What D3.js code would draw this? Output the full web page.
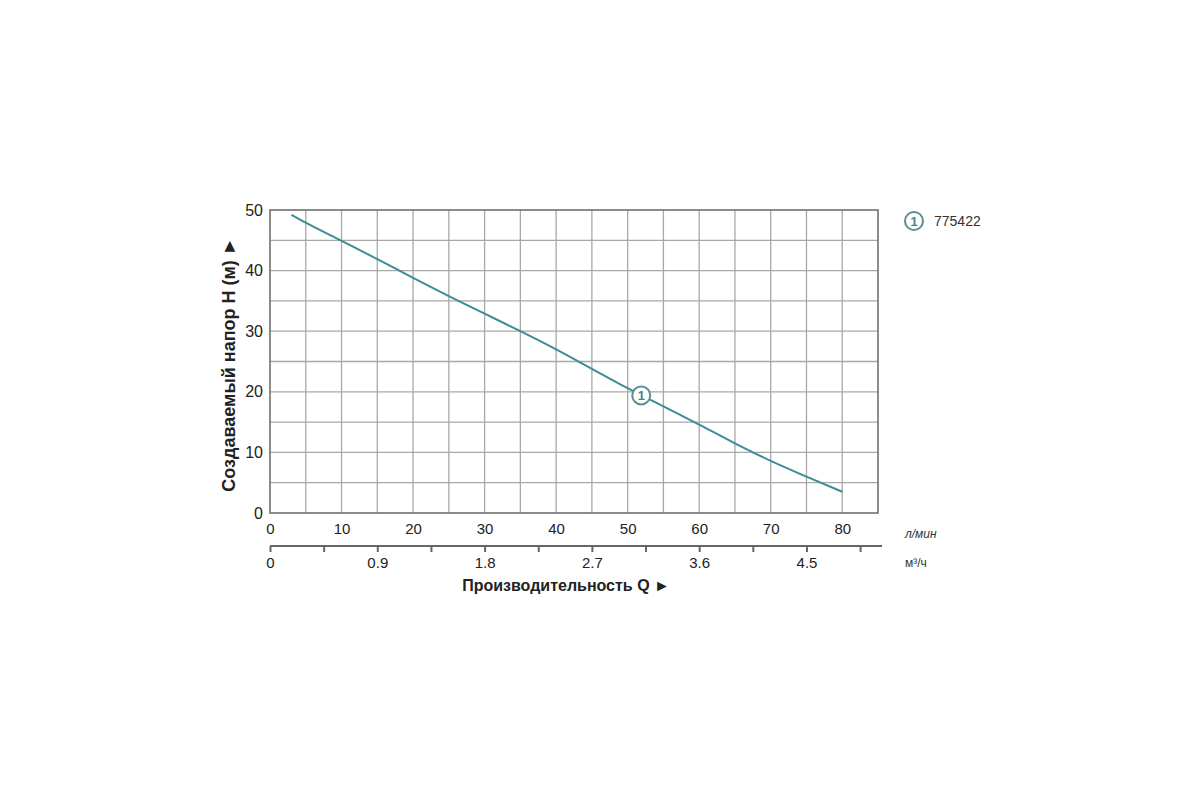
<!DOCTYPE html>
<html>
<head>
<meta charset="utf-8">
<script src="https://cdn.jsdelivr.net/npm/d3@7"></script>
<style>
  body { margin: 0; background: #fff; }
  text { font-family: "Liberation Sans", Arial, sans-serif; }
</style>
</head>
<body>
<svg id="chart"></svg>
<script>
// pump curve 775422: flow (l/min) vs head (m)
const flowLmin = [3, 5, 10, 15, 20, 25, 30, 35, 40, 45, 50, 55, 60, 65, 70, 75, 80];
const headM = [49.2, 47.9, 44.9, 41.9, 38.8, 35.8, 32.9, 30.0, 27.0, 23.8, 20.6, 17.6, 14.6, 11.5, 8.6, 6.0, 3.5];
const xTicks = [0, 10, 20, 30, 40, 50, 60, 70, 80];
const yTicks = [0, 10, 20, 30, 40, 50];
const m3hTicks = [0, 0.45, 0.9, 1.35, 1.8, 2.25, 2.7, 3.15, 3.6, 4.05, 4.5, 4.95];
const m3hLabels = [0, 0.9, 1.8, 2.7, 3.6, 4.5];
const markerPoint = { q: 51.9, h: 19.4, label: "1" };
const seriesName = "775422";

const width = 1200;
const height = 800;
const margin = { top: 210, right: 322, bottom: 287, left: 270 };
const lineColor = "#3c8d97";

const svg = d3.select("#chart").attr("width", width).attr("height", height);

const x = d3.scaleLinear().domain([0, 85]).range([margin.left, width - margin.right]);
const y = d3.scaleLinear().domain([0, 50]).range([height - margin.bottom, margin.top]);
// 1 m3/h = 16.667 l/min
const xm = d3.scaleLinear().domain([0, 85 * 0.06]).range([margin.left, width - margin.right]);

// grid every 5 units
const grid = svg.append("g").attr("class", "grid");
grid.selectAll("line.v")
  .data(d3.range(5, 85, 5))
  .join("line")
  .attr("class", "v")
  .attr("x1", (d) => x(d)).attr("x2", (d) => x(d))
  .attr("y1", y(0)).attr("y2", y(50))
  .attr("stroke", "#a8a8a8").attr("stroke-width", 1.3);
grid.selectAll("line.h")
  .data(d3.range(5, 50, 5))
  .join("line")
  .attr("class", "h")
  .attr("x1", x(0)).attr("x2", x(85))
  .attr("y1", (d) => y(d)).attr("y2", (d) => y(d))
  .attr("stroke", "#a8a8a8").attr("stroke-width", 1.3);

svg.append("rect")
  .attr("x", x(0)).attr("y", y(50))
  .attr("width", x(85) - x(0)).attr("height", y(0) - y(50))
  .attr("fill", "none").attr("stroke", "#707070").attr("stroke-width", 1.6);

// y axis labels
const yAxis = svg.append("g")
  .attr("transform", `translate(${x(0)},0)`)
  .call(d3.axisLeft(y).tickValues(yTicks).tickSize(0).tickPadding(7));
yAxis.select(".domain").remove();
yAxis.selectAll("text").attr("font-size", 16).attr("fill", "#222")
  .attr("font-family", "Liberation Sans, Arial, sans-serif");

// l/min axis labels
const xAxis = svg.append("g")
  .attr("transform", `translate(0,${y(0)})`)
  .call(d3.axisBottom(x).tickValues(xTicks).tickSize(0).tickPadding(10));
xAxis.select(".domain").remove();
xAxis.selectAll("text").attr("font-size", 15).attr("fill", "#222")
  .attr("font-family", "Liberation Sans, Arial, sans-serif");

// m3/h axis
const mAxis = svg.append("g")
  .attr("transform", `translate(0,546)`)
  .call(d3.axisBottom(xm)
    .tickValues(m3hTicks)
    .tickSize(6)
    .tickSizeOuter(0)
    .tickPadding(5)
    .tickFormat((d) => (m3hLabels.some((v) => Math.abs(v - d) < 1e-6) ? d3.format("")(d) : "")));
mAxis.select(".domain").attr("stroke", "#666").attr("stroke-width", 2)
  .attr("d", `M${x(0)},0H${x(85) + 4}`);
mAxis.selectAll(".tick line").attr("stroke", "#666").attr("stroke-width", 2);
mAxis.selectAll("text").attr("font-size", 15).attr("fill", "#222")
  .attr("font-family", "Liberation Sans, Arial, sans-serif");

// unit labels
svg.append("text").attr("x", 905).attr("y", 538)
  .attr("font-size", 12).attr("font-style", "italic").attr("fill", "#333")
  .text("л/мин");
svg.append("text").attr("x", 905).attr("y", 567)
  .attr("font-size", 12).attr("fill", "#333")
  .text("м³/ч");

// axis titles
svg.append("text")
  .attr("x", 566).attr("y", 591)
  .attr("text-anchor", "middle")
  .attr("font-size", 16).attr("font-weight", "bold").attr("fill", "#222")
  .text("Производительность Q ►");
svg.append("text")
  .attr("transform", `translate(235,${(y(0) + y(50)) / 2 + 3}) rotate(-90)`)
  .attr("text-anchor", "middle")
  .attr("font-size", 18).attr("font-weight", "bold").attr("fill", "#222")
  .text("Создаваемый напор H (м) ►");

// curve
const line = d3.line()
  .x((d, i) => x(flowLmin[i]))
  .y((d) => y(d))
  .curve(d3.curveMonotoneX);
svg.append("path")
  .datum(headM)
  .attr("d", line)
  .attr("fill", "none")
  .attr("stroke", lineColor)
  .attr("stroke-width", 2);

// curve marker
const mk = svg.append("g")
  .attr("transform", `translate(${x(markerPoint.q)},${y(markerPoint.h)})`);
mk.append("circle").attr("r", 9).attr("fill", "#fff")
  .attr("stroke", "#5a8f96").attr("stroke-width", 2);
mk.append("text").attr("text-anchor", "middle").attr("dy", "0.36em")
  .attr("font-size", 13).attr("font-weight", "bold").attr("fill", "#4d7f86")
  .text(markerPoint.label);

// legend
const lg = svg.append("g").attr("transform", "translate(914,221)");
lg.append("circle").attr("r", 9).attr("fill", "#fff")
  .attr("stroke", "#5a8f96").attr("stroke-width", 2);
lg.append("text").attr("text-anchor", "middle").attr("dy", "0.36em")
  .attr("font-size", 13).attr("font-weight", "bold").attr("fill", "#4d7f86")
  .text(markerPoint.label);
lg.append("text").attr("x", 20).attr("dy", "0.36em")
  .attr("font-size", 14).attr("fill", "#333")
  .text(seriesName);
</script>
</body>
</html>
